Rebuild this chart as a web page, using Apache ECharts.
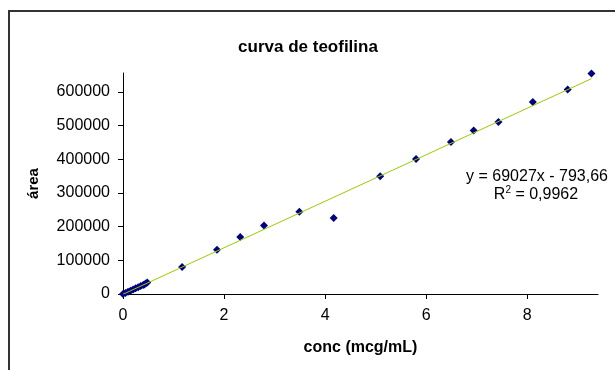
<!DOCTYPE html>
<html>
<head>
<meta charset="utf-8">
<script src="https://cdn.jsdelivr.net/npm/echarts@6/dist/echarts.min.js"></script>
<style>
    html, body { margin: 0; padding: 0; background: #fff; }
    #chart { width: 615px; height: 370px; }
</style>
</head>
<body>
<div id="chart"></div>
<script>
// measured points (conc, area)
const concValues = [0, 0.05, 0.1, 0.15, 0.2, 0.25, 0.3, 0.35, 0.4, 0.42, 0.45, 0.48,
    1.17, 1.86, 2.32, 2.79, 3.49, 4.17, 5.09, 5.8, 6.49, 6.94, 7.43, 8.11, 8.8, 9.27]
const areaValues = [0, 3000, 6500, 10000, 13500, 17000, 20000, 23500, 26500, 28500, 31000, 34000,
    80200, 131600, 169300, 203700, 244400, 225700, 349300, 400900, 451400, 485000, 510800, 570200, 606800, 654300]

// linear trendline ends, as drawn
const trendConc = [0, 9.27]
const trendArea = [-794, 639100]

const xTicks = [0, 2, 4, 6, 8]
const yTicks = [0, 100000, 200000, 300000, 400000, 500000, 600000]

const chart = echarts.init(document.getElementById('chart'))

const font = "'Liberation Sans', Arial, sans-serif"

chart.setOption({
    animation: false,
    title: {
        text: 'curva de teofilina',
        left: 303,
        top: 34,
        textAlign: 'center',
        textStyle: { fontFamily: font, fontSize: 17, fontWeight: 'bold', color: '#000' },
    },
    grid: {
        left: 123,
        top: 73,
        right: 17,
        bottom: 76,
    },
    xAxis: {
        type: 'value',
        min: 0,
        max: 9.4,
        name: 'conc (mcg/mL)',
        nameLocation: 'middle',
        nameGap: 46,
        nameTextStyle: { fontFamily: font, fontSize: 16, fontWeight: 'bold', color: '#000' },
        splitLine: { show: false },
        axisLine: { lineStyle: { color: '#000', width: 1 } },
        axisTick: { show: true, length: 5, customValues: xTicks, lineStyle: { color: '#000' } },
        axisLabel: { customValues: xTicks, margin: 14, fontFamily: font, fontSize: 16, color: '#000' },
    },
    yAxis: {
        type: 'value',
        min: 0,
        max: 656000,
        name: 'área',
        nameLocation: 'middle',
        nameGap: 82,
        nameTextStyle: { fontFamily: font, fontSize: 15, fontWeight: 'bold', color: '#000' },
        splitLine: { show: false },
        axisLine: { show: true, lineStyle: { color: '#000', width: 1 } },
        axisTick: { show: true, length: 5, customValues: yTicks, lineStyle: { color: '#000' } },
        axisLabel: {
            customValues: yTicks,
            margin: 13,
            formatter: value => String(value),
            fontFamily: font,
            fontSize: 16,
            color: '#000',
        },
    },
    series: [
        {
            type: 'scatter',
            symbol: 'diamond',
            symbolSize: 8,
            itemStyle: { color: '#000080', opacity: 1 },
            data: concValues.map((c, i) => [c, areaValues[i]]),
            z: 2,
        },
        {
            type: 'line',
            showSymbol: false,
            lineStyle: { color: '#99cc00', width: 1 },
            data: trendConc.map((c, i) => [c, trendArea[i]]),
            z: 3,
        },
    ],
    graphic: [
        {
            type: 'rect',
            shape: { x: 9, y: 11, width: 700, height: 500 },
            style: { fill: 'none', stroke: '#333', lineWidth: 2 },
        },
        {
            type: 'text',
            x: 537,
            y: 177,
            style: {
                text: 'y = 69027x - 793,66',
                align: 'center',
                verticalAlign: 'middle',
                font: '16px ' + font,
                fill: '#000',
            },
        },
        {
            type: 'text',
            x: 536,
            y: 194,
            style: {
                text: '{b|R}{s|2}{b| = 0,9962}',
                align: 'center',
                verticalAlign: 'middle',
                rich: {
                    b: { fontFamily: font, fontSize: 16, color: '#000', lineHeight: 18, verticalAlign: 'bottom' },
                    s: { fontFamily: font, fontSize: 10, color: '#000', lineHeight: 18, verticalAlign: 'top' },
                },
            },
        },
    ],
})
</script>
</body>
</html>
